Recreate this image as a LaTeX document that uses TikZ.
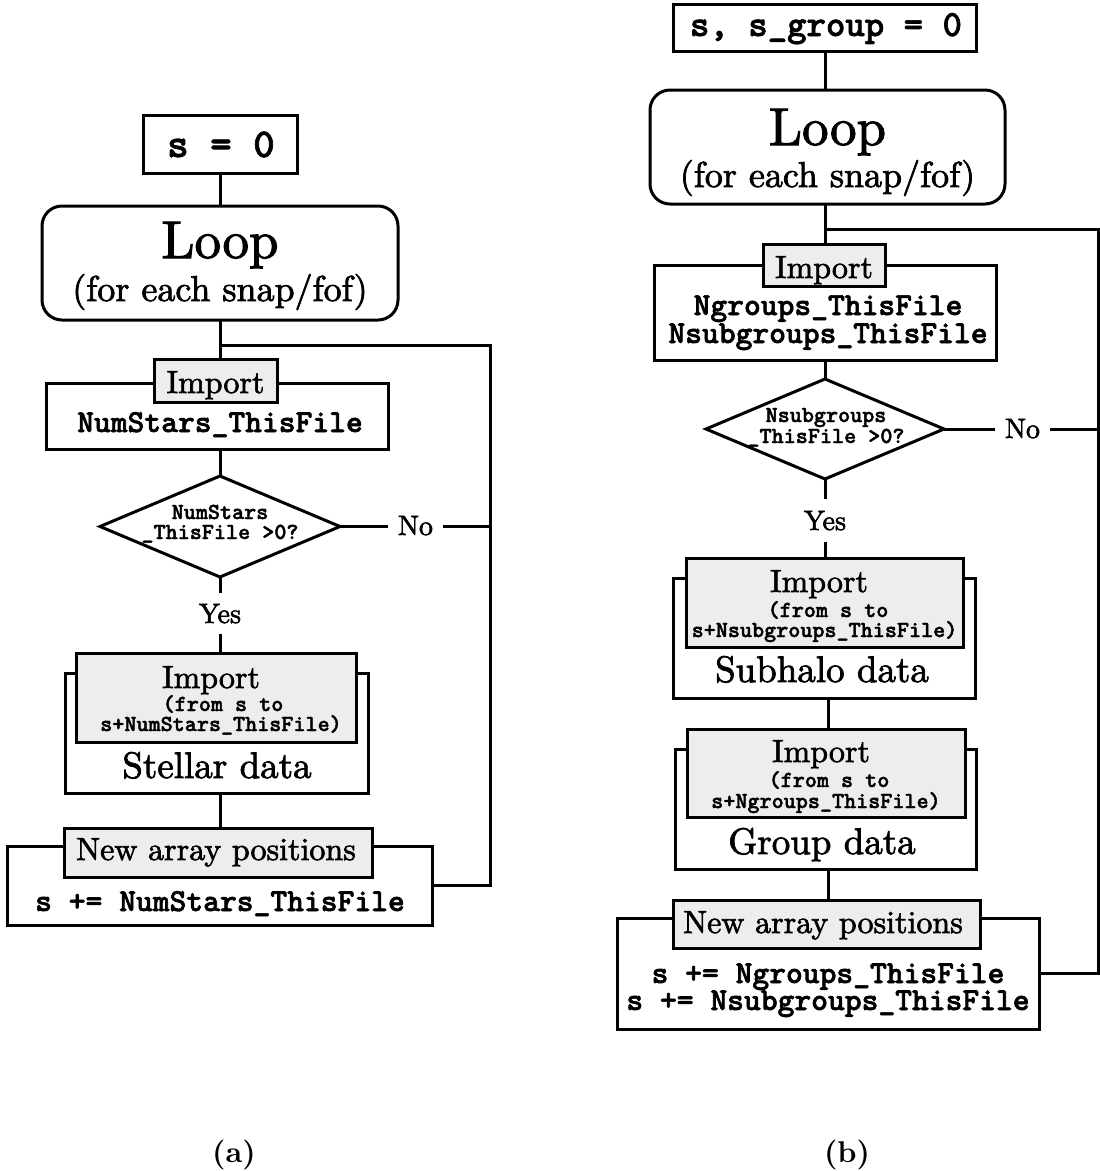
\documentclass[tikz,border=0pt]{standalone}
\usepackage{fontspec}
\setmainfont{lmroman10-regular.otf}[BoldFont=lmroman10-bold.otf,ItalicFont=lmroman10-italic.otf]
\newfontfamily\serfont{lmroman10-regular.otf}[FakeBold=2]
\newfontfamily\codefont{lmmonolt10-bold.otf}[FakeBold=1.8]
\usetikzlibrary{shapes.geometric}
\newcommand\myfs[1]{\fontsize{#1}{#1}\selectfont}
\definecolor{boxgrey}{HTML}{EDEDED}
\begin{document}
\begin{tikzpicture}[x=1pt,y=-1pt,line width=3pt,
  box/.style={draw,inner sep=0pt,outer sep=0pt,fill=white},
  greybox/.style={draw,inner sep=0pt,outer sep=0pt,fill=boxgrey},
  loopbox/.style={draw,rounded corners=20pt,inner sep=0pt,outer sep=0pt},
  decision/.style={draw,diamond,aspect=2.4,inner sep=0pt,outer sep=0pt},
  txt/.style={inner sep=0pt,outer sep=0pt,anchor=base},
  codebig/.style={txt,font=\codefont\myfs{32}},
  codesmall/.style={txt,font=\codefont\myfs{23}},
  sertxt/.style={txt,font=\serfont\myfs{32}},
  datatxt/.style={txt,font=\serfont\myfs{37}},
  answer/.style={inner xsep=10pt,inner ysep=11pt,outer sep=0pt,anchor=base,font=\serfont\myfs{28}},
  caption/.style={txt,font=\bfseries\myfs{30}}]
\useasboundingbox (0,0) rectangle (1100,1171);
% ---------------- (a) ----------------
\coordinate (colA) at (220,0);
\node[box,minimum width=154pt,minimum height=58pt] (s0a) at (220,144) {};
\node[txt,font=\codefont\myfs{41}] (s0at) at (221,157) {s = 0};
\node[loopbox,minimum width=356pt,minimum height=114pt] (loopa) at (220,263) {};
\node[txt,font=\serfont\myfs{53}] (loopat1) at (220,258) {Loop};
\node[txt,font=\serfont\myfs{36}] (loopat2) at (220,301) {(for each snap/fof)};
\node[box,minimum width=342pt,minimum height=66pt] (impa) at (217,416) {};
\node[greybox,minimum width=123pt,minimum height=43pt] (impalbl) at (215.5,380.5) {};
\node[sertxt] (impalblt) at (215.5,393) {Import};
\node[codebig] (impat) at (220,432) {NumStars\_ThisFile};
\node[decision,minimum width=240pt,minimum height=101pt] (diaa) at (220,526.5) {};
\node[codesmall] (diaat1) at (220,519) {NumStars};
\node[codesmall] (diaat2) at (220,539) {\_ThisFile >0?};
\node[answer] (noa) at (415.5,535) {No};
\node[answer] (yesa) at (220,623) {Yes};
\node[box,minimum width=303pt,minimum height=120pt] (stelout) at (216.5,733) {};
\node[greybox,minimum width=280pt,minimum height=89pt] (stelgrey) at (216,697.5) {};
\node[sertxt] (stelt1) at (211,688) {Import};
\node[codesmall] (stelt2) at (223,711) {(from s to};
\node[codesmall] (stelt3) at (221,731) {s+NumStars\_ThisFile)};
\node[datatxt] (stelt4) at (217,778) {Stellar data};
\node[box,minimum width=425pt,minimum height=79pt] (newaout) at (219.5,885.5) {};
\node[greybox,minimum width=308pt,minimum height=49pt] (newagrey) at (218,852.5) {};
\node[sertxt] (newat1) at (216,860) {New array positions};
\node[codebig] (newat2) at (220,911) {s += NumStars\_ThisFile};
\coordinate (bra) at (220,345);
\coordinate (ra) at (490,345);
\draw (colA |- s0a.south) -- (colA |- loopa.north);
\draw (colA |- loopa.south) -- (colA |- impalbl.north);
\draw (colA |- impa.south) -- (diaa.north);
\draw (diaa.south) -- (yesa.north);
\draw (yesa.south) -- (colA |- stelgrey.north);
\draw (colA |- stelout.south) -- (colA |- newagrey.north);
\draw (diaa.east) -- (diaa.east -| noa.west);
\draw (diaa.east -| noa.east) -- (diaa.east -| ra);
\draw (bra) -- (ra) -- (ra |- newaout.east) -- (newaout.east);
% ---------------- (b) ----------------
\coordinate (colB) at (825,0);
\node[box,minimum width=303pt,minimum height=47pt] (s0b) at (824.5,27.5) {};
\node[txt,font=\codefont\myfs{37}] (s0bt) at (826,36) {s, s\_group = 0};
\node[loopbox,minimum width=355pt,minimum height=114pt] (loopb) at (827.5,147) {};
\node[txt,font=\serfont\myfs{53}] (loopbt1) at (827.5,145) {Loop};
\node[txt,font=\serfont\myfs{36}] (loopbt2) at (827.5,187) {(for each snap/fof)};
\node[box,minimum width=342pt,minimum height=95pt] (impb) at (825,312.5) {};
\node[greybox,minimum width=122pt,minimum height=42pt] (impblbl) at (824,265) {};
\node[sertxt] (impblblt) at (824,278) {Import};
\node[codebig] (impbt1) at (828,315) {Ngroups\_ThisFile};
\node[codebig] (impbt2) at (828,343) {Nsubgroups\_ThisFile};
\node[decision,minimum width=238pt,minimum height=100pt] (diab) at (825,429) {};
\node[codesmall] (diabt1) at (826,422) {Nsubgroups};
\node[codesmall] (diabt2) at (826,443) {\_ThisFile >0?};
\node[answer] (nob) at (1022.5,438) {No};
\node[answer,inner ysep=12pt] (yesb) at (825,530) {Yes};
\node[box,minimum width=302pt,minimum height=120pt] (subout) at (824,638) {};
\node[greybox,minimum width=277pt,minimum height=89pt] (subgrey) at (824.5,602.5) {};
\node[sertxt] (subt1) at (819,592) {Import};
\node[codesmall] (subt2) at (828,617) {(from s to};
\node[codesmall] (subt3) at (824.5,637) {s+Nsubgroups\_ThisFile)};
\node[datatxt] (subt4) at (822,682) {Subhalo data};
\node[box,minimum width=301pt,minimum height=120pt] (grpout) at (825.5,809) {};
\node[greybox,minimum width=278pt,minimum height=88pt] (grpgrey) at (826,773) {};
\node[sertxt] (grpt1) at (821,762) {Import};
\node[codesmall] (grpt2) at (829,787) {(from s to};
\node[codesmall] (grpt3) at (826,808) {s+Ngroups\_ThisFile)};
\node[datatxt] (grpt4) at (822,854) {Group data};
\node[box,minimum width=422pt,minimum height=111pt] (newbout) at (828,973.5) {};
\node[greybox,minimum width=307pt,minimum height=48pt] (newbgrey) at (826.5,924) {};
\node[sertxt] (newbt1) at (823,933) {New array positions};
\node[codebig] (newbt2) at (828,983) {s += Ngroups\_ThisFile};
\node[codebig] (newbt3) at (828,1010) {s += Nsubgroups\_ThisFile};
\coordinate (brb) at (825,229);
\coordinate (rb) at (1098,229);
\draw (colB |- s0b.south) -- (colB |- loopb.north);
\draw (colB |- loopb.south) -- (colB |- impblbl.north);
\draw (colB |- impb.south) -- (diab.north);
\draw (diab.south) -- (yesb.north);
\draw (yesb.south) -- (colB |- subgrey.north);
\draw ([xshift=3pt]colB |- subout.south) -- ([xshift=3pt]colB |- grpgrey.north);
\draw ([xshift=3pt]colB |- grpout.south) -- ([xshift=3pt]colB |- newbgrey.north);
\draw (diab.east) -- (diab.east -| nob.west);
\draw (diab.east -| nob.east) -- (diab.east -| rb);
\draw (brb) -- (rb) -- (rb |- newbout.east) -- (newbout.east);
% captions
\node[caption] (capa) at (234,1162) {(a)};
\node[caption] (capb) at (847,1162) {(b)};
\end{tikzpicture}
\end{document}
